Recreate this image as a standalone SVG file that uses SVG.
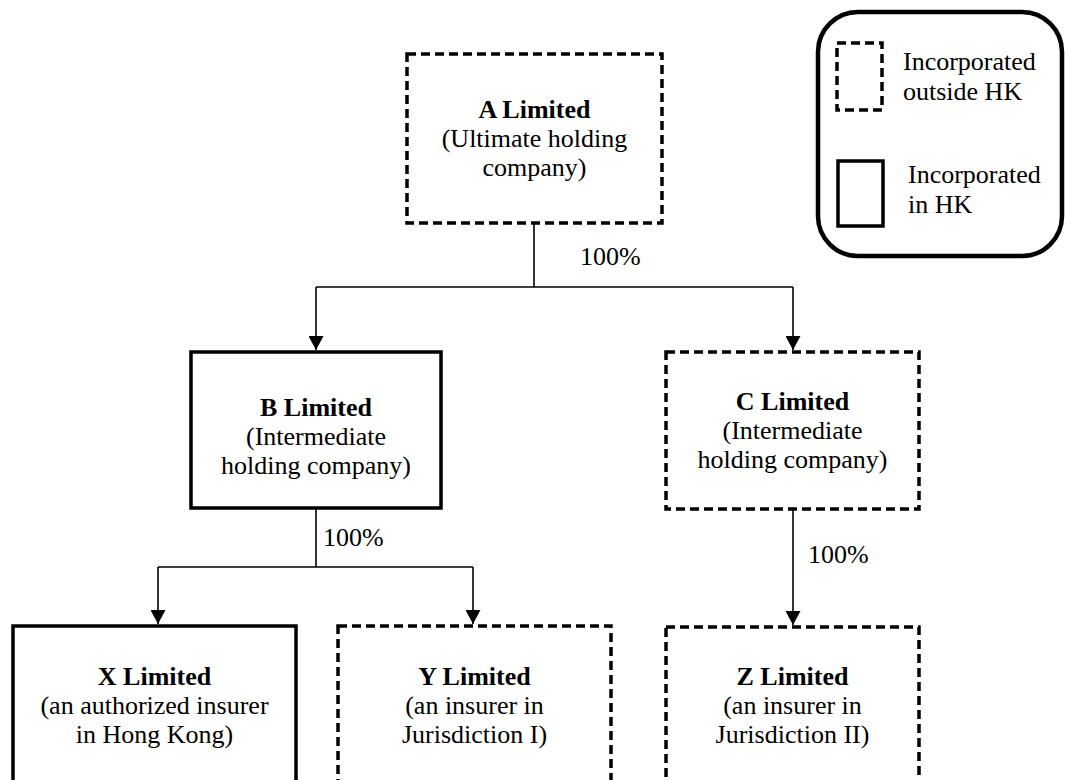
<svg xmlns="http://www.w3.org/2000/svg" width="1065" height="780" viewBox="0 0 1065 780">
<style>
  .box { fill: #ffffff; stroke: #000000; stroke-width: 3.5; }
  .dash { stroke-dasharray: 9 5; }
  .conn { fill: none; stroke: #000000; stroke-width: 1.6; }
  text { font-size: 26px; fill: #000000; }
  .t { text-anchor: middle; }
  .b { font-weight: bold; }
</style>
<defs>
  <marker id="arr" viewBox="0 0 14 15" refX="14" refY="7.5" markerWidth="14" markerHeight="15" markerUnits="userSpaceOnUse" orient="auto">
    <path d="M0,0 L14,7.5 L0,15 Z" fill="#000000"/>
  </marker>
</defs>
<rect width="1065" height="780" fill="#ffffff"/>

<g font-family="'Liberation Serif', Tinos, 'DejaVu Serif', serif">
<g id="connectors">
  <path class="conn" d="M534,223 V287"/>
  <path class="conn" d="M316,287 H793"/>
  <path class="conn" d="M316,287 V350" marker-end="url(#arr)"/>
  <path class="conn" d="M793,287 V350" marker-end="url(#arr)"/>
  <path class="conn" d="M316,508 V567"/>
  <path class="conn" d="M158,567 H473"/>
  <path class="conn" d="M158,567 V624" marker-end="url(#arr)"/>
  <path class="conn" d="M473,567 V624" marker-end="url(#arr)"/>
  <path class="conn" d="M793,509 V625" marker-end="url(#arr)"/>
  <text x="580" y="265">100%</text>
  <text x="323" y="546">100%</text>
  <text x="808" y="563">100%</text>
</g>

<g id="nodeA">
  <rect class="box dash" x="407" y="54" width="255" height="169"/>
  <text class="t b" x="534.5" y="118">A Limited</text>
  <text class="t" x="534.5" y="147">(Ultimate holding</text>
  <text class="t" x="534.5" y="176">company)</text>
</g>

<g id="nodeB">
  <rect class="box" x="191" y="352" width="250" height="156"/>
  <text class="t b" x="316" y="416">B Limited</text>
  <text class="t" x="316" y="445">(Intermediate</text>
  <text class="t" x="316" y="474">holding company)</text>
</g>

<g id="nodeC">
  <rect class="box dash" x="666" y="352" width="253" height="157"/>
  <text class="t b" x="792.5" y="410">C Limited</text>
  <text class="t" x="792.5" y="439">(Intermediate</text>
  <text class="t" x="792.5" y="468">holding company)</text>
</g>

<g id="nodeX">
  <rect class="box" x="13" y="626" width="283" height="200"/>
  <text class="t b" x="154.5" y="685">X Limited</text>
  <text class="t" x="154.5" y="714">(an authorized insurer</text>
  <text class="t" x="154.5" y="743">in Hong Kong)</text>
</g>

<g id="nodeY">
  <rect class="box dash" x="338" y="626" width="273" height="200"/>
  <text class="t b" x="474.5" y="685">Y Limited</text>
  <text class="t" x="474.5" y="714">(an insurer in</text>
  <text class="t" x="474.5" y="743">Jurisdiction I)</text>
</g>

<g id="nodeZ">
  <rect class="box dash" x="666" y="627" width="253" height="200"/>
  <text class="t b" x="792.5" y="685">Z Limited</text>
  <text class="t" x="792.5" y="714">(an insurer in</text>
  <text class="t" x="792.5" y="743">Jurisdiction II)</text>
</g>

<g id="legend">
  <rect x="818" y="12" width="244" height="244" rx="40" ry="40" fill="#ffffff" stroke="#000000" stroke-width="4.5"/>
  <rect class="box dash" x="837" y="43" width="45" height="67"/>
  <text x="903" y="70">Incorporated</text>
  <text x="903" y="100">outside HK</text>
  <rect class="box" x="838" y="161" width="45" height="65"/>
  <text x="908" y="183">Incorporated</text>
  <text x="908" y="213">in HK</text>
</g>
</g>
</svg>
